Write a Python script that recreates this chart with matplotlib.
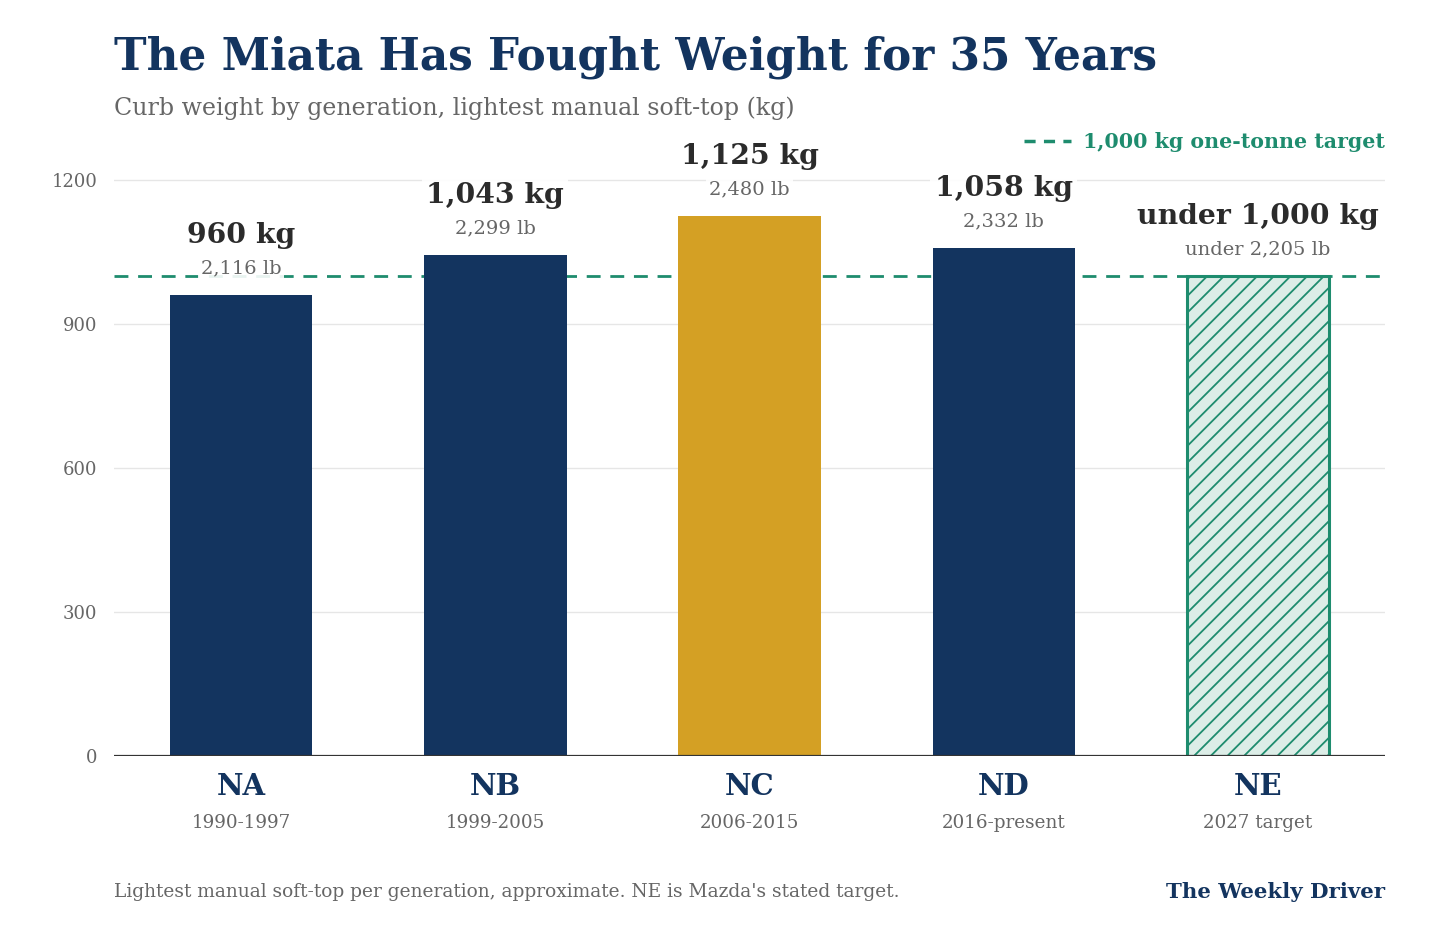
import matplotlib.pyplot as plt
from matplotlib.lines import Line2D

# --- data ---
generations = ["NA", "NB", "NC", "ND", "NE"]
years = ["1990-1997", "1999-2005", "2006-2015", "2016-present", "2027 target"]
weights_kg = [960, 1043, 1125, 1058, 1000]
kg_labels = ["960 kg", "1,043 kg", "1,125 kg", "1,058 kg", "under 1,000 kg"]
lb_labels = ["2,116 lb", "2,299 lb", "2,480 lb", "2,332 lb", "under 2,205 lb"]
target_kg = 1000
y_ticks = [0, 300, 600, 900, 1200]

NAVY = "#13345f"
GOLD = "#d4a024"
GREEN = "#1e8c6e"
DARK = "#2b2b2b"
GRAY = "#666666"

plt.rcParams['font.family'] = ['DejaVu Serif']
plt.rcParams['hatch.linewidth'] = 1.3

fig = plt.figure(figsize=(14.4, 9.36), dpi=100)
ax = fig.add_axes([0.0792, 0.1923, 0.8826, 0.667])

bar_colors = [NAVY, NAVY, GOLD, NAVY, "#dcede7"]
x = list(range(len(generations)))
bars = ax.bar(x, weights_kg, width=0.56, color=bar_colors, zorder=3)
ne = bars[-1]
ne.set_edgecolor(GREEN)
ne.set_hatch('//')
ne.set_linewidth(2.2)

ax.axhline(target_kg, color=GREEN, lw=2, ls=(0, (5, 3.5)), zorder=2)

for xi, w, k, lb in zip(x, weights_kg, kg_labels, lb_labels):
    ax.annotate(lb, (xi, w), xytext=(0, 19), textcoords='offset points',
                ha='center', va='center', fontsize=14, color=GRAY, zorder=5,
                bbox=dict(boxstyle='square,pad=0.15', fc='white', ec='none', alpha=0.9))
    ax.annotate(k, (xi, w), xytext=(0, 43), textcoords='offset points',
                ha='center', va='center', fontsize=20.3, fontweight='bold', color=DARK, zorder=5,
                bbox=dict(boxstyle='square,pad=0.15', fc='white', ec='none', alpha=0.9))

ax.set_xlim(-0.5, 4.5)
ax.set_ylim(0, 1300)
ax.set_yticks(y_ticks)
ax.set_yticklabels([str(t) for t in y_ticks], color=GRAY, fontsize=13)
ax.tick_params(axis='y', length=0, pad=12)
ax.grid(axis='y', color='#e6e6e6', lw=1, zorder=0)
ax.set_axisbelow(True)
for s in ax.spines.values():
    s.set_visible(False)
ax.axhline(0, color='#333333', lw=1.6, zorder=4)

ax.set_xticks(x)
ax.set_xticklabels([])
ax.tick_params(axis='x', length=0)
for xi, g, yr in zip(x, generations, years):
    ax.annotate(g, (xi, 0), xytext=(0, -22), textcoords='offset points',
                ha='center', va='center', fontsize=21, fontweight='bold', color=NAVY,
                annotation_clip=False)
    ax.annotate(yr, (xi, 0), xytext=(0, -48), textcoords='offset points',
                ha='center', va='center', fontsize=13.2, color=GRAY,
                annotation_clip=False)

# legend entry for the target line
handle = Line2D([], [], color=GREEN, lw=2.5, ls=(0, (3.2, 2.4)))
leg = ax.legend([handle], ["1,000 kg one-tonne target"], loc='upper right',
                bbox_to_anchor=(1.0, 1.0), frameon=False, handlelength=2.3,
                borderaxespad=0, borderpad=0, handletextpad=0.6,
                prop={'size': 14.8, 'weight': 'bold'})
for t in leg.get_texts():
    t.set_color(GREEN)

fig.text(0.0792, 0.939, "The Miata Has Fought Weight for 35 Years", fontsize=31.5,
         fontweight='bold', color=NAVY, va='center', ha='left')
fig.text(0.0792, 0.884, "Curb weight by generation, lightest manual soft-top (kg)",
         fontsize=17.1, color=GRAY, va='center', ha='left')
fig.text(0.0792, 0.047, "Lightest manual soft-top per generation, approximate. NE is Mazda's stated target.",
         fontsize=13.4, color=GRAY, va='center', ha='left')
fig.text(0.9618, 0.047, "The Weekly Driver", fontsize=15.3, fontweight='bold',
         color=NAVY, va='center', ha='right')

fig.savefig("out.png", dpi=100, facecolor='white')
